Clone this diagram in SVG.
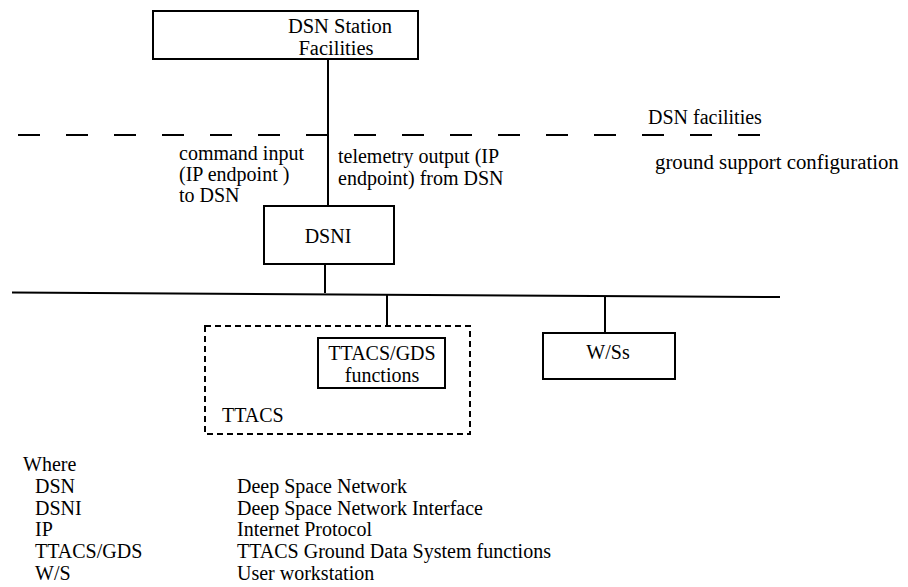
<svg xmlns="http://www.w3.org/2000/svg" width="908" height="587" viewBox="0 0 908 587">
<style>
.t{font-family:'Liberation Serif','DejaVu Serif',serif;font-size:20px;fill:#000}
.box{fill:#fff;stroke:#000;stroke-width:2}
.ln{stroke:#000;stroke-width:2;fill:none}
.mid{text-anchor:middle}
</style>
<rect width="908" height="587" fill="#fff"/>
<g id="connectors">
<line class="ln" x1="328" y1="59" x2="328" y2="206"/>
<line class="ln" x1="325" y1="264" x2="325" y2="293"/>
<line class="ln" x1="12" y1="292.5" x2="780" y2="297"/>
<line class="ln" x1="387" y1="294" x2="387" y2="326"/>
<line class="ln" x1="605" y1="296" x2="605" y2="333"/>
</g>
<g id="boundary" class="t" font-family="Liberation Serif, serif">
<line x1="18" y1="135" x2="762" y2="135" stroke="#000" stroke-width="2" stroke-dasharray="22 26"/>
<text x="648" y="124">DSN facilities</text>
<text x="655" y="169" font-size="20.8">ground support configuration</text>
</g>
<g id="dsn-station" class="t" font-family="Liberation Serif, serif">
<rect class="box" x="153" y="11" width="265" height="48"/>
<text class="mid" x="340" y="33" font-size="20.5">DSN Station</text>
<text class="mid" x="336" y="55" font-size="20.5">Facilities</text>
</g>
<g id="labels" class="t" font-family="Liberation Serif, serif" font-size="20.4">
<text x="179" y="160">command input</text>
<text x="179" y="181">(IP endpoint )</text>
<text x="179" y="202">to DSN</text>
<text x="338" y="163">telemetry output (IP</text>
<text x="338" y="185">endpoint) from DSN</text>
</g>
<g id="dsni" class="t" font-family="Liberation Serif, serif">
<rect class="box" x="264" y="206" width="130" height="58"/>
<text class="mid" x="328" y="243">DSNI</text>
</g>
<g id="ttacs" class="t" font-family="Liberation Serif, serif">
<rect x="205" y="326" width="265" height="108" fill="none" stroke="#000" stroke-width="2" stroke-dasharray="6 4"/>
<text x="222" y="422">TTACS</text>
</g>
<g id="ttacs-gds" class="t" font-family="Liberation Serif, serif">
<rect class="box" x="318" y="338" width="127" height="50"/>
<text class="mid" x="382" y="360">TTACS/GDS</text>
<text class="mid" x="382" y="382">functions</text>
</g>
<g id="wss" class="t" font-family="Liberation Serif, serif">
<rect class="box" x="543" y="333" width="132" height="46"/>
<text class="mid" x="608" y="359">W/Ss</text>
</g>
<g id="legend" class="t" font-family="Liberation Serif, serif">
<text x="23" y="471">Where</text>
<text x="35" y="493">DSN</text>
<text x="35" y="514.5">DSNI</text>
<text x="35" y="536">IP</text>
<text x="35" y="558">TTACS/GDS</text>
<text x="35" y="579.5">W/S</text>
<text x="237" y="493">Deep Space Network</text>
<text x="237" y="514.5">Deep Space Network Interface</text>
<text x="237" y="536">Internet Protocol</text>
<text x="237" y="558">TTACS Ground Data System functions</text>
<text x="237" y="579.5">User workstation</text>
</g>
</svg>
